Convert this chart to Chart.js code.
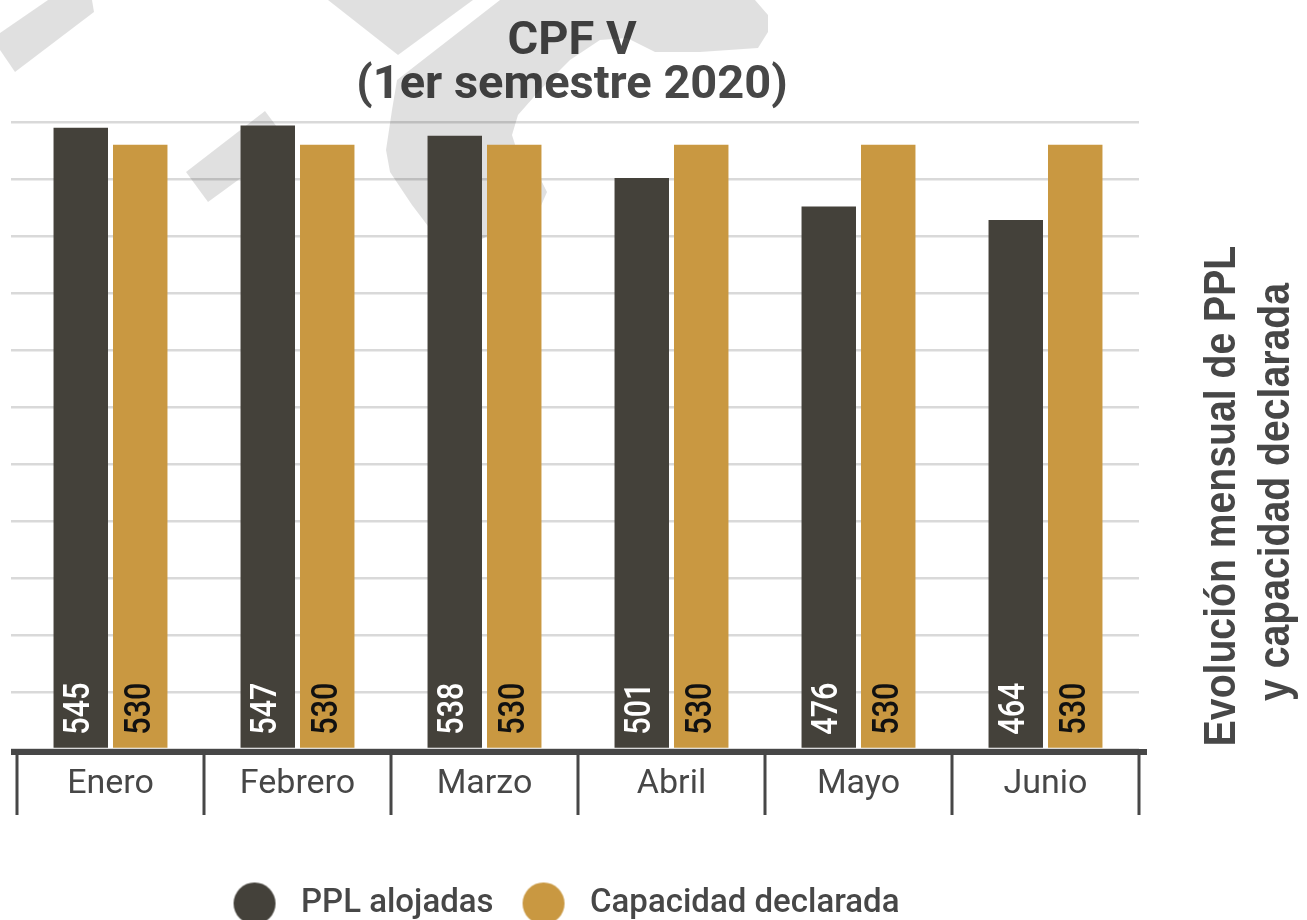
<!DOCTYPE html>
<html>
<head>
<meta charset="utf-8">
<script src="https://cdn.jsdelivr.net/npm/chart.js@4"></script>
<style>
  body { margin: 0; background: #fff; }
  #wrap { width: 1307px; height: 920px; }
</style>
</head>
<body>
<div id="wrap"><canvas id="chart"></canvas></div>
<script>
const months = ['Enero', 'Febrero', 'Marzo', 'Abril', 'Mayo', 'Junio'];
const alojadas = [545, 547, 538, 501, 476, 464];
const capacidad = [530, 530, 530, 530, 530, 530];
const seriesNames = ['PPL alojadas', 'Capacidad declarada'];
const seriesColors = ['#44413a', '#c99841'];
const titleLines = ['CPF V', '(1er semestre 2020)'];
const sideTitle = ['Evolución mensual de PPL', 'y capacidad declarada'];
const textColor = '#474747';

// round legend markers, drawn as small canvases
function makeDot(color) {
    let c = document.createElement('canvas');
    c.width = 44;
    c.height = 44;
    let g = c.getContext('2d');
    g.fillStyle = color;
    g.beginPath();
    g.arc(22, 22, 21, 0, Math.PI * 2);
    g.fill();
    return c;
}
const dots = seriesColors.map(makeDot);

// light grey logo behind the bars
const watermark = {
    id: 'watermark',
    beforeDatasetsDraw(chart) {
        const ctx = chart.ctx;
        const shapes = [
            [[48, 0], [92, 0], [94, 12], [15, 72], [0, 50], [0, 33]],
            [[328, 0], [473, 0], [398, 55]],
            [[265, 111], [289, 143], [208, 202], [186, 172]],
            [[500, 0], [755, 0], [768, 15], [768, 32], [758, 48], [700, 52], [655, 52], [627, 38],
             [600, 40], [570, 60], [540, 90], [518, 115], [512, 135], [520, 160], [540, 178],
             [547, 192], [540, 208], [515, 222], [480, 240], [455, 250], [440, 242], [412, 205],
             [390, 172], [386, 150], [392, 110], [397, 80]]
        ];
        ctx.save();
        ctx.fillStyle = 'rgba(0,0,0,0.12)';
        shapes.forEach(pts => {
            ctx.beginPath();
            pts.forEach((p, i) => i ? ctx.lineTo(p[0], p[1]) : ctx.moveTo(p[0], p[1]));
            ctx.closePath();
            ctx.fill();
        });
        ctx.restore();
    }
};

// values written vertically at the foot of each bar, base line and month separators
const barValues = {
    id: 'barValues',
    afterLayout(chart) {
        // title and legend sit a little left of the plot centre
        chart.legend.left -= 13;
        chart.legend.right -= 13;
        chart.titleBlock.left -= 3;
        chart.titleBlock.right -= 3;
    },
    afterDatasetsDraw(chart) {
        const ctx = chart.ctx;
        const area = chart.chartArea;
        const xs = chart.scales.x;
        ctx.save();
        ctx.fillStyle = textColor;
        ctx.fillRect(area.left - 6, area.bottom, area.right - area.left + 14, 6);
        let step = xs.getPixelForValue(1) - xs.getPixelForValue(0);
        for (let i = 0; i <= months.length; i++) {
            let x = Math.round(xs.getPixelForValue(i) - step / 2);
            ctx.fillRect(x - 1.5, area.bottom, 3, 66);
        }
        ctx.font = '500 36px Roboto';
        ctx.textAlign = 'left';
        ctx.textBaseline = 'alphabetic';
        chart.data.datasets.forEach((ds, di) => {
            chart.getDatasetMeta(di).data.forEach((bar, i) => {
                ctx.save();
                ctx.translate(bar.x, bar.base - 13);
                ctx.rotate(-Math.PI / 2);
                ctx.scale(0.85, 1);
                ctx.fillStyle = di === 0 ? '#ffffff' : '#111111';
                ctx.fillText(String(ds.data[i]), 0, 8 + di * 2);
                ctx.restore();
            });
        });
        ctx.restore();
    }
};

// rotated caption on the right
const sideCaption = {
    id: 'sideCaption',
    afterDraw(chart) {
        const ctx = chart.ctx;
        ctx.save();
        ctx.fillStyle = textColor;
        ctx.font = 'bold 44px "Liberation Sans", Arial, sans-serif';
        ctx.textAlign = 'center';
        ctx.textBaseline = 'alphabetic';
        [[1235, 496], [1289, 492]].forEach((p, i) => {
            ctx.save();
            ctx.translate(p[0], p[1]);
            ctx.rotate(-Math.PI / 2);
            ctx.scale(0.89, 1);
            ctx.fillText(sideTitle[i], 0, 0);
            ctx.restore();
        });
        ctx.restore();
    }
};

new Chart(document.getElementById('chart'), {
    type: 'bar',
    data: {
        labels: months,
        datasets: [{
            label: seriesNames[0],
            data: alojadas,
            backgroundColor: seriesColors[0],
            barPercentage: 0.916,
            categoryPercentage: 0.636
        }, {
            label: seriesNames[1],
            data: capacidad,
            backgroundColor: seriesColors[1],
            barPercentage: 0.916,
            categoryPercentage: 0.636
        }]
    },
    options: {
        responsive: true,
        maintainAspectRatio: false,
        animation: false,
        layout: {
            padding: { left: 11, right: 168, top: 18, bottom: -10 }
        },
        scales: {
            x: {
                offset: true,
                border: { display: false },
                grid: { display: false },
                ticks: {
                    color: textColor,
                    font: { family: 'Roboto', size: 34 },
                    padding: 7
                },
                afterFit(scale) {
                    scale.height = 118;
                }
            },
            y: {
                min: 0,
                max: 550,
                border: { display: false },
                grid: {
                    color: '#d9d9d9',
                    lineWidth: 2.5,
                    tickLength: 6
                },
                ticks: { display: false, stepSize: 50 }
            }
        },
        plugins: {
            title: {
                display: true,
                text: titleLines,
                color: textColor,
                font: { family: 'Roboto', size: 47, weight: 'bold', lineHeight: 0.926 },
                padding: { top: 2.5, bottom: 14.5 },
                z: 1
            },
            legend: {
                position: 'bottom',
                labels: {
                    usePointStyle: true,
                    pointStyleWidth: 60,
                    padding: 20,
                    color: textColor,
                    font: { family: 'Roboto', size: 33, weight: '500' },
                    generateLabels(chart) {
                        const items = Chart.defaults.plugins.legend.labels.generateLabels(chart);
                        items.forEach((it, i) => { it.pointStyle = dots[i]; });
                        return items;
                    }
                }
            },
            tooltip: { enabled: false }
        }
    },
    plugins: [watermark, barValues, sideCaption]
});
</script>
</body>
</html>
